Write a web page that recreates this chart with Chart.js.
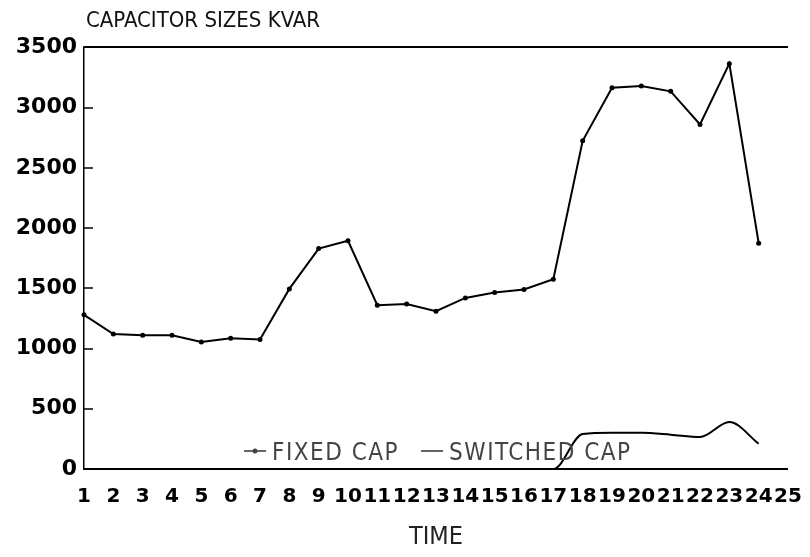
<!DOCTYPE html>
<html>
<head>
<meta charset="utf-8">
<script src="https://cdn.jsdelivr.net/npm/chart.js@4/dist/chart.umd.min.js"></script>
<style>
  html, body { margin: 0; padding: 0; background: #fff; }
  #wrap { width: 810px; height: 557px; position: relative; }
</style>
</head>
<body>
<div id="wrap"><canvas id="c"></canvas></div>
<script>
// ---- data ----
const timeLabels = ['1','2','3','4','5','6','7','8','9','10','11','12','13','14','15','16','17','18','19','20','21','22','23','24','25'];
const fixedCap = [1280, 1120, 1110, 1110, 1055, 1085, 1075, 1495, 1830, 1895, 1360, 1370, 1310, 1420, 1465, 1490, 1575, 2725, 3165, 3180, 3135, 2860, 3365, 1875];
const switchedCap = [0, 0, 0, 0, 0, 0, 0, 0, 0, 0, 0, 0, 0, 0, 0, 0, 0, 290, 300, 300, 285, 265, 390, 210];
const yTickValues = [0, 500, 1000, 1500, 2000, 2500, 3000, 3500];
const seriesNames = ['FIXED CAP', 'SWITCHED CAP'];
const chartTitle = 'CAPACITOR SIZES KVAR';
const xTitle = 'TIME';

const NARROW = "'Liberation Sans Narrow', 'DejaVu Sans Condensed', 'Liberation Sans', sans-serif";
const TICKFONT = "'DejaVu Sans', 'Liberation Sans', sans-serif";

// move the title so it starts at the plot's left edge
const placeTitle = {
  id: 'placeTitle',
  beforeDraw(chart) {
    const t = chart.titleBlock;
    if (t) {
      const w = t.right - t.left;
      t.left = chart.chartArea.left + 2;
      t.right = t.left + w;
    }
  }
};

// legend drawn inside the plot, just above the zero line (as in the reference)
const inlineLegend = {
  id: 'inlineLegend',
  afterDraw(chart) {
    const ctx = chart.ctx;
    const a = chart.chartArea;
    ctx.save();
    ctx.font = "24px " + NARROW;
    if ('letterSpacing' in ctx) ctx.letterSpacing = '1.5px';
    ctx.fillStyle = '#444';
    ctx.strokeStyle = '#333';
    ctx.lineWidth = 1.5;
    ctx.textBaseline = 'alphabetic';
    let x = a.left + 160;
    const base = a.bottom - 9;
    const mid = base - 9;
    chart.data.datasets.forEach((d) => {
      ctx.beginPath();
      ctx.moveTo(x, mid);
      ctx.lineTo(x + 22, mid);
      ctx.stroke();
      if (d.pointRadius > 0) {
        ctx.beginPath();
        ctx.arc(x + 11, mid, 2.5, 0, Math.PI * 2);
        ctx.fill();
      }
      x += 28;
      ctx.fillText(d.label, x, base);
      x += ctx.measureText(d.label).width + 22;
    });
    ctx.restore();
  }
};

new Chart(document.getElementById('c'), {
  type: 'line',
  data: {
    labels: timeLabels,
    datasets: [
      {
        label: seriesNames[0],
        data: fixedCap,
        borderColor: '#000',
        backgroundColor: '#000',
        borderWidth: 2,
        pointRadius: 2.5,
        pointBorderWidth: 0,
        pointBackgroundColor: '#000',
        tension: 0
      },
      {
        label: seriesNames[1],
        data: switchedCap,
        borderColor: '#000',
        backgroundColor: '#000',
        borderWidth: 2,
        pointRadius: 0,
        cubicInterpolationMode: 'monotone'
      }
    ]
  },
  options: {
    responsive: true,
    maintainAspectRatio: false,
    animation: false,
    layout: { padding: { left: 0, right: 22, top: 0, bottom: 0 } },
    plugins: {
      legend: { display: false },
      tooltip: { enabled: false },
      title: {
        display: true,
        text: chartTitle,
        align: 'start',
        color: '#111',
        font: { family: NARROW, size: 22, weight: 'normal' },
        padding: { top: 8, bottom: 13 }
      }
    },
    scales: {
      x: {
        type: 'category',
        offset: false,
        grid: { display: false },
        border: { display: false },
        ticks: {
          autoSkip: false,
          maxRotation: 0,
          minRotation: 0,
          padding: 8,
          color: '#000',
          font: { family: TICKFONT, size: 20, weight: 'bold' }
        },
        title: {
          display: true,
          text: xTitle,
          color: '#222',
          font: { family: NARROW, size: 25, weight: 'normal' },
          padding: { top: 0, bottom: 5 }
        },
        afterFit(scale) { scale.height = 88; }
      },
      y: {
        min: 0,
        max: 3500,
        afterBuildTicks(scale) { scale.ticks = yTickValues.map(v => ({ value: v })); },
        ticks: {
          color: '#000',
          padding: 16,
          font: { family: TICKFONT, size: 22, weight: 'bold' },
          callback: (v) => String(v)
        },
        grid: {
          drawTicks: true,
          tickLength: -9,
          tickColor: '#000',
          tickWidth: 1.5,
          color: (ctx) => (ctx.tick && (ctx.tick.value === 0 || ctx.tick.value === 3500)) ? '#000' : 'rgba(0,0,0,0)',
          lineWidth: 2
        },
        border: { display: true, color: '#000', width: 1.5 },
        afterFit(scale) { scale.width = 84; }
      }
    }
  },
  plugins: [placeTitle, inlineLegend]
});
</script>
</body>
</html>
